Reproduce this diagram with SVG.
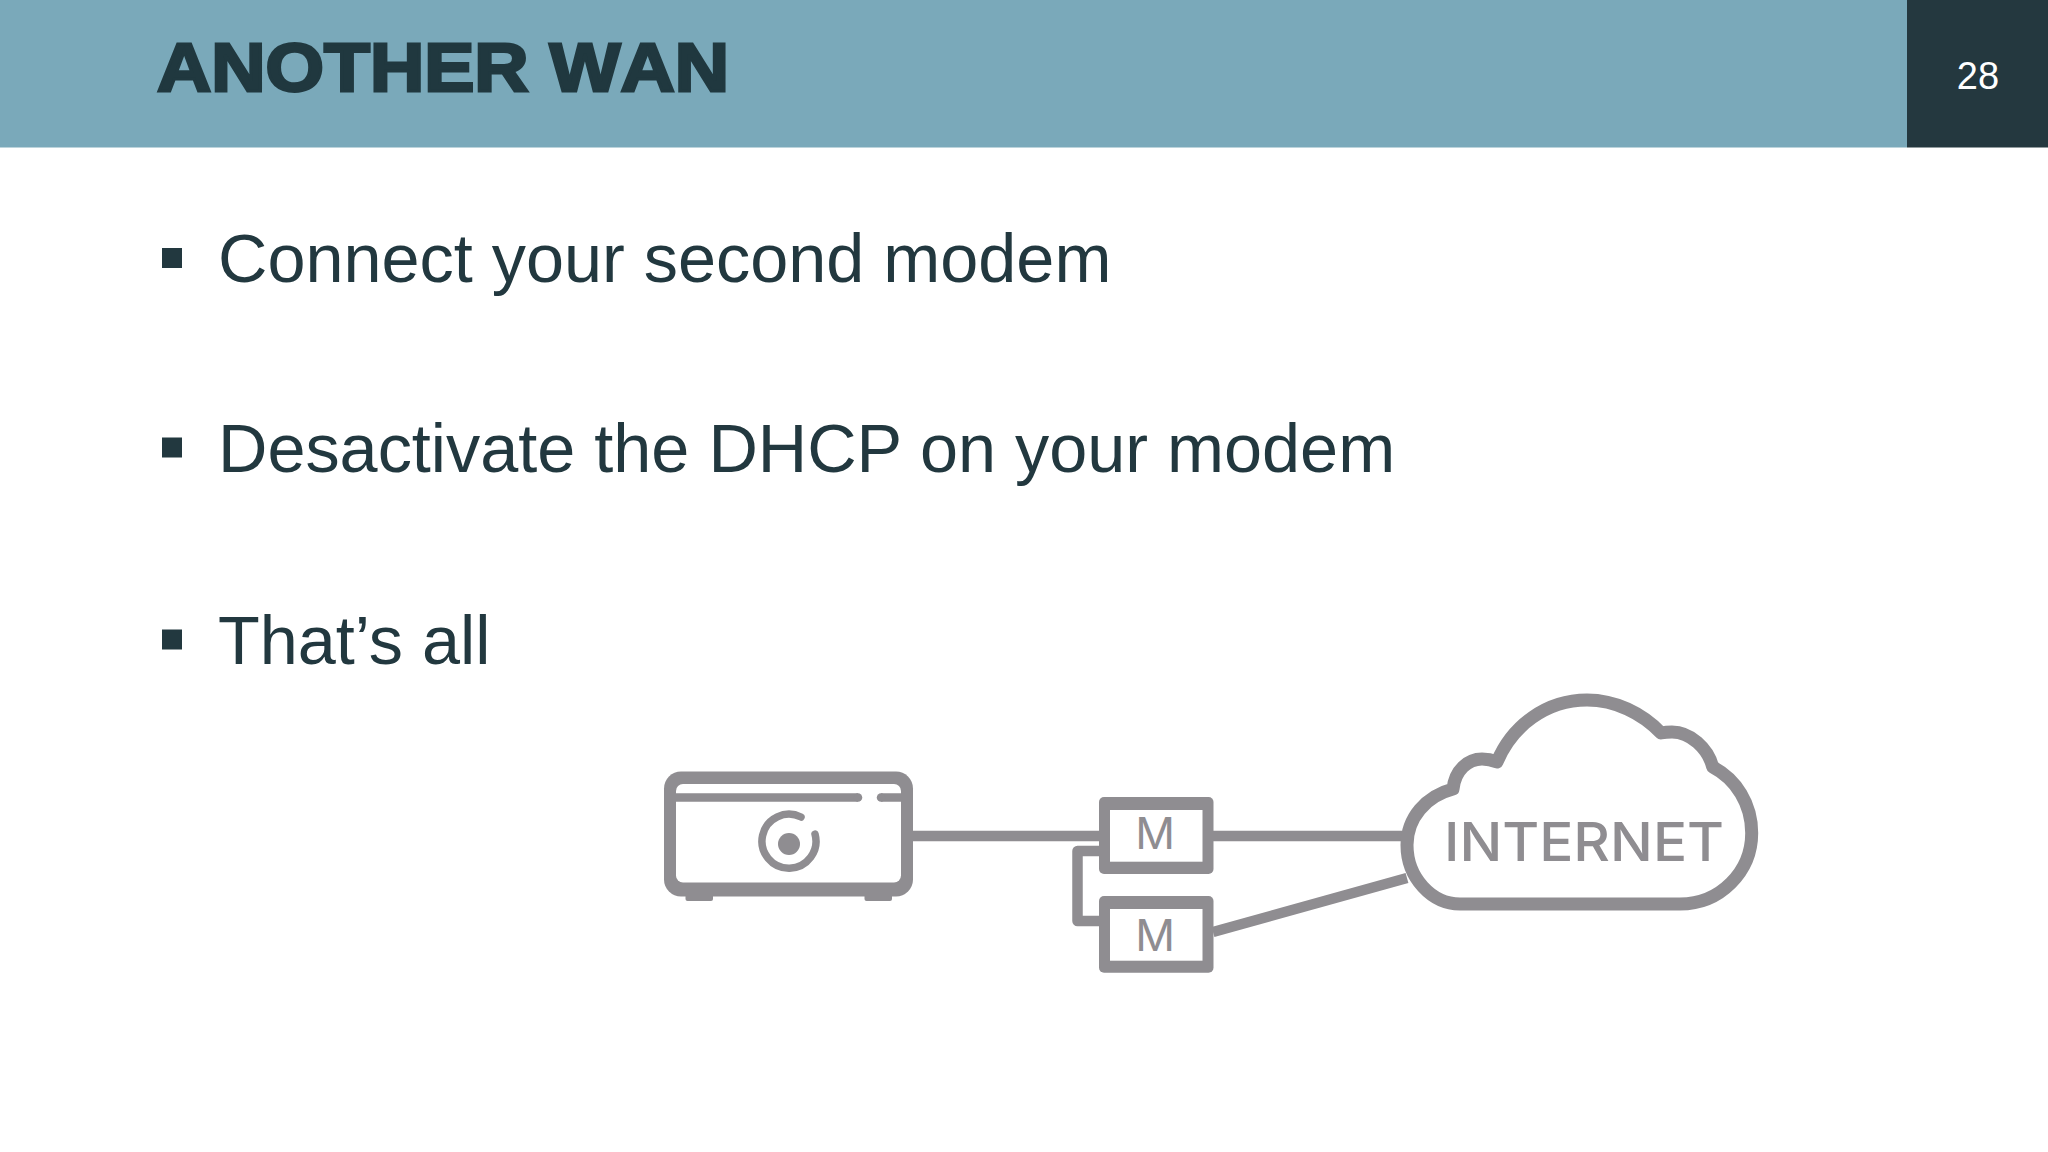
<svg xmlns="http://www.w3.org/2000/svg" width="2048" height="1152" viewBox="0 0 2048 1152">
<style>
.body{font-family:"Liberation Sans",Arial,sans-serif;font-size:68.400px;fill:#22383f}
.bullet{fill:#22383f}
.o{fill:none;stroke:#8f8d91;stroke-linejoin:round}
.f{fill:#8f8d91}
.w{fill:#fff}
.lbl{font-family:Inter,"Noto Sans",sans-serif;fill:#8f8d91}
</style>
<rect width="2048" height="1152" fill="#fff"/>
<g id="header">
<rect width="1907" height="147.500" fill="#7aa9ba"/>
<rect x="1907" width="141" height="147.500" fill="#24383f"/>
<text x="157" y="91" font-family="Liberation Sans,Arial,sans-serif" font-weight="700" font-size="68" fill="#20383f" stroke="#20383f" stroke-width="2.800" style="font-kerning:none" textLength="572" lengthAdjust="spacingAndGlyphs">ANOTHER WAN</text>
<text x="1978" y="88.500" text-anchor="middle" font-family="Liberation Sans,Arial,sans-serif" font-size="38" fill="#fff">28</text>
</g>
<g id="bullets">
<rect class="bullet" x="162" y="248" width="20" height="20"/>
<text class="body" x="218" y="282">Connect your second modem</text>
<rect class="bullet" x="162" y="437.500" width="20" height="20"/>
<text class="body" x="218" y="472">Desactivate the DHCP on your modem</text>
<rect class="bullet" x="162" y="629.500" width="20" height="20"/>
<text class="body" x="218" y="664">That’s all</text>
</g>
<g id="connectors">
<path class="o" stroke-width="10.500" d="M912 836H1100"/>
<path class="o" stroke-width="10.500" d="M1213 836H1402"/>
<path class="o" stroke-width="10.500" d="M1213 932L1407 878"/>
<path class="o" stroke-width="10.500" d="M1100 851H1077.500V921H1100"/>
</g>
<g id="router">
<rect class="f" x="685.500" y="888" width="27.500" height="13" rx="2"/>
<rect class="f" x="864.500" y="888" width="27.500" height="13" rx="2"/>
<rect class="f" x="664" y="771.500" width="249" height="125" rx="17"/>
<rect class="w" x="676" y="784" width="225" height="98.500" rx="7"/>
<path class="o" stroke-width="8.500" d="M676 797.500H858"/>
<path class="o" stroke-width="8.500" stroke-linecap="round" d="M858 797.500H858"/>
<path class="o" stroke-width="8.500" d="M881 797.500H901"/>
<path class="o" stroke-width="8.500" stroke-linecap="round" d="M881 797.500H881"/>
<path class="o" stroke-width="7.500" stroke-linecap="round" d="M801 817A27 27 0 1 0 815 834"/>
<circle class="f" cx="789" cy="844" r="11"/>
</g>
<g id="modem1">
<rect class="f" x="1099" y="797" width="114.500" height="77" rx="5"/>
<rect class="w" x="1110" y="810" width="92.500" height="51.700"/>
<text class="lbl" x="1155" y="849" font-size="44" text-anchor="middle">M</text>
</g>
<g id="modem2">
<rect class="f" x="1099" y="896" width="114.500" height="76.700" rx="5"/>
<rect class="w" x="1110" y="909" width="92.500" height="51.700"/>
<text class="lbl" x="1155" y="951" font-size="44" text-anchor="middle">M</text>
</g>
<g id="cloud">
<path class="o" fill="#fff" stroke-width="13" d="M1460 904H1680C1720 904 1751.700 872 1751.700 833C1751.700 804 1736 779 1712.700 767C1708 748 1690 732 1672 732Q1666 732 1661 733C1642 713 1615 700 1587 700C1546 700 1512 726 1497 762C1492 760 1487 759 1482 759C1468 759 1455 770 1453 789C1426 796 1407 818 1407 845C1407 878 1432 904 1460 904Z"/>
<text class="lbl" x="1444" y="861" font-size="54" font-weight="500" textLength="280" lengthAdjust="spacingAndGlyphs">INTERNET</text>
</g>
</svg>
